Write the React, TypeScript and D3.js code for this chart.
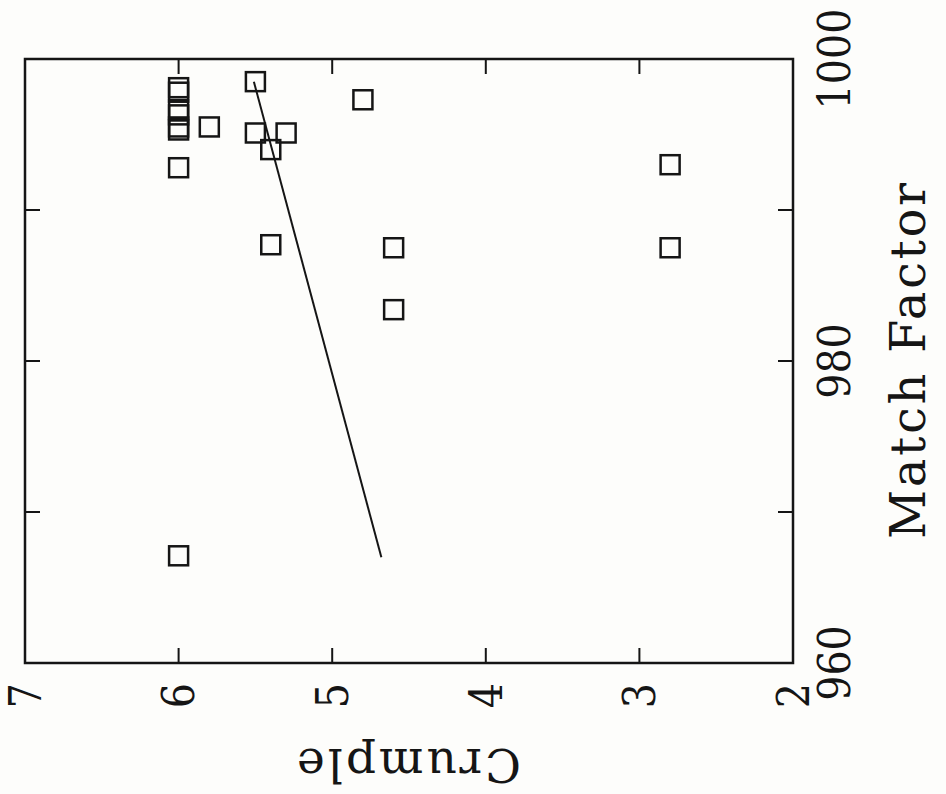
import React, { useEffect, useRef } from 'react';
import * as d3 from 'd3';

// scatter points: Match Factor vs Crumple
const matchFactor = [998.1, 997.8, 996.65, 996.3, 995.5, 995.3, 995.5, 992.8, 998.5, 995.1, 995.1, 994.0, 987.7, 997.3, 987.5, 983.4, 993.0, 987.5, 967.1];
const crumple = [6, 6, 6, 6, 6, 6, 5.8, 6, 5.5, 5.5, 5.3, 5.4, 5.4, 4.8, 4.6, 4.6, 2.8, 2.8, 6];

// fitted line end points
const fitMatch = [967, 998.5];
const fitCrumple = [4.68, 5.51];

const xTicks = [960, 980, 1000];
const xMinorTicks = [970, 990];
const yTicks = [2, 3, 4, 5, 6, 7];

export default function App() {
  const ref = useRef<SVGSVGElement>(null);

  useEffect(() => {
    const width = 946;
    const height = 794;
    const plotW = 604;
    const plotH = 768;
    const font = "'DejaVu Serif', serif";
    const ink = '#151515';

    const svg = d3.select(ref.current).attr('width', width).attr('height', height);
    svg.selectAll('*').remove();

    svg.append('rect').attr('width', width).attr('height', height).attr('fill', '#fdfdfb');

    // the whole chart is drawn normally, then turned a quarter turn
    const g = svg.append('g').attr('transform', 'translate(25,663) rotate(-90)');

    const x = d3.scaleLinear().domain([960, 1000]).range([0, plotW]);
    const y = d3.scaleLinear().domain([2, 7]).range([plotH, 0]);

    const tickLen = 15;
    const allX = xTicks.concat(xMinorTicks);

    // ticks on both sides
    allX.forEach(t => {
      g.append('line').attr('x1', x(t)).attr('x2', x(t)).attr('y1', plotH).attr('y2', plotH - tickLen)
        .attr('stroke', ink).attr('stroke-width', 2);
      g.append('line').attr('x1', x(t)).attr('x2', x(t)).attr('y1', 0).attr('y2', tickLen)
        .attr('stroke', ink).attr('stroke-width', 2);
    });
    yTicks.forEach(t => {
      g.append('line').attr('x1', 0).attr('x2', tickLen).attr('y1', y(t)).attr('y2', y(t))
        .attr('stroke', ink).attr('stroke-width', 2);
      g.append('line').attr('x1', plotW).attr('x2', plotW - tickLen).attr('y1', y(t)).attr('y2', y(t))
        .attr('stroke', ink).attr('stroke-width', 2);
    });

    g.append('rect').attr('x', 0).attr('y', 0).attr('width', plotW).attr('height', plotH)
      .attr('fill', 'none').attr('stroke', ink).attr('stroke-width', 2.5);

    // tick labels
    xTicks.forEach(t => {
      g.append('text')
        .attr('transform', `translate(${x(t)},${plotH + 57}) scale(0.9,1)`)
        .attr('text-anchor', 'middle')
        .attr('font-family', font).attr('font-size', 44)
        .attr('fill', ink)
        .text(t);
    });
    yTicks.forEach(t => {
      g.append('text')
        .attr('transform', `translate(-20,${y(t)}) scale(0.9,1)`)
        .attr('dy', '0.36em')
        .attr('text-anchor', 'end')
        .attr('font-family', font).attr('font-size', 44)
        .attr('fill', ink)
        .text(t);
    });

    // axis titles
    g.append('text')
      .attr('x', plotW / 2).attr('y', plotH + 132)
      .attr('text-anchor', 'middle')
      .attr('font-family', font).attr('font-size', 48)
      .attr('textLength', 356).attr('lengthAdjust', 'spacing')
      .attr('fill', ink)
      .text('Match Factor');
    g.append('text')
      .attr('transform', `translate(-86,${plotH / 2}) rotate(-90)`)
      .attr('text-anchor', 'middle')
      .attr('font-family', font).attr('font-size', 47)
      .attr('textLength', 224).attr('lengthAdjust', 'spacing')
      .attr('fill', ink)
      .text('Crumple');

    // fitted line
    const line = d3.line<number>()
      .x((d, i) => x(fitMatch[i]))
      .y(d => y(d));
    g.append('path').datum(fitCrumple).attr('d', line)
      .attr('fill', 'none').attr('stroke', ink).attr('stroke-width', 2);

    // open squares
    const s = 19;
    g.selectAll('rect.pt')
      .data(matchFactor)
      .enter()
      .append('rect')
      .attr('class', 'pt')
      .attr('x', d => x(d) - s / 2)
      .attr('y', (d, i) => y(crumple[i]) - s / 2)
      .attr('width', s)
      .attr('height', s)
      .attr('fill', 'none')
      .attr('stroke', ink)
      .attr('stroke-width', 2.5);
  }, []);

  return (
    <svg ref={ref} style={{ position: 'absolute', left: 0, top: 0 }} />
  );
}
